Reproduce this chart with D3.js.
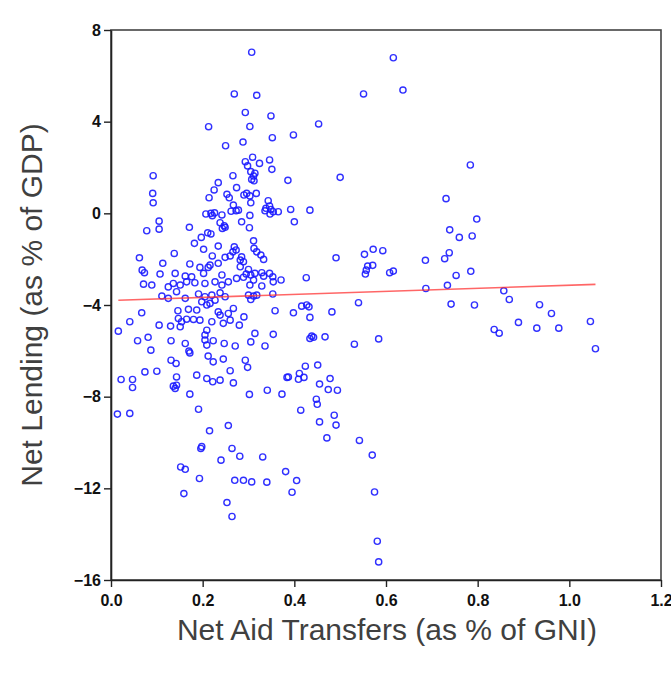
<!DOCTYPE html>
<html>
<head>
<meta charset="utf-8">
<script src="https://cdn.jsdelivr.net/npm/d3@7"></script>
<style>
  html, body { margin: 0; padding: 0; background: #fff; }
  svg { display: block; }
</style>
</head>
<body>
<svg id="chart" width="671" height="680"></svg>
<script>
// ---- Data ----
const netAid = [
  0.307,0.616,0.269,0.318,0.551,0.637,0.293,0.349,0.213,0.303,0.453,0.352,0.398,0.250,0.288,
  0.092,0.091,0.092,0.105,0.105,0.078,0.171,0.234,0.225,0.253,0.258,0.214,0.207,0.218,0.221,0.226,0.242,0.247,0.243,0.249,0.238,0.211,0.218,0.197,0.182,0.202,0.234,0.138,0.062,0.113,0.221,0.172,0.194,0.216,0.212,0.234,0.249,0.260,0.068,0.073,0.107,0.140,0.162,0.176,0.202,0.242,
  0.293,0.298,0.309,0.324,0.346,0.351,0.266,0.305,0.311,0.307,0.312,0.314,0.386,0.500,0.274,0.290,0.296,0.303,0.317,0.305,0.267,0.273,0.262,0.278,0.303,0.343,0.338,0.346,0.349,0.354,0.365,0.347,0.336,0.392,0.434,0.400,0.285,0.302,0.491,0.311,0.312,0.318,0.327,0.333,0.269,0.273,0.266,0.285,0.282,0.289,0.282,0.300,0.295,0.305,0.289,0.314,0.329,0.333,0.346,0.353,0.371,0.354,0.311,0.274,0.426,
  0.071,0.089,0.125,0.136,0.151,0.165,0.183,0.205,0.227,0.242,0.256,0.111,0.125,0.143,0.162,0.191,0.205,0.220,0.238,0.249,0.067,0.041,0.016,0.105,0.130,0.146,0.169,0.187,0.165,0.180,0.194,0.147,0.154,0.198,0.209,0.216,0.227,0.234,0.238,0.220,0.209,0.205,0.151,0.245,0.256,0.058,0.081,0.087,0.131,0.162,0.170,0.172,0.205,0.209,0.223,0.247,0.212,0.223,0.245,0.131,0.142,0.074,0.100,0.022,0.047,0.047,0.143,0.136,0.140,0.143,0.187,0.209,0.222,0.238,0.172,
  0.303,0.329,0.300,0.311,0.318,0.305,0.353,0.267,0.260,0.280,0.290,0.358,0.398,0.416,0.427,0.432,0.434,0.482,0.540,0.314,0.354,0.305,0.336,0.271,0.438,0.434,0.442,0.467,0.531,0.293,0.298,0.260,0.267,0.387,0.384,0.424,0.451,0.411,0.409,0.421,0.478,0.455,0.474,0.494,0.341,0.373,0.302,0.448,0.450,
  0.014,0.041,0.191,0.414,0.487,0.491,0.455,0.471,0.215,0.256,0.196,0.198,0.264,0.240,0.281,0.331,0.152,0.162,0.193,0.270,0.289,0.307,0.340,0.381,0.405,0.395,0.159,0.253,0.264,0.542,0.570,0.575,0.581,0.584,
  0.784,0.731,0.798,0.739,0.760,0.788,0.553,0.572,0.593,0.560,0.555,0.571,0.557,0.608,0.616,0.686,0.728,0.738,0.753,0.785,0.687,0.734,0.857,0.869,0.742,0.793,0.935,0.961,1.046,0.889,0.836,0.847,0.929,0.977,1.057,0.584
];
const netLending = [
  7.03,6.79,5.21,5.15,5.21,5.38,4.40,4.25,3.78,3.79,3.90,3.30,3.42,2.95,3.11,
  1.64,0.87,0.46,-0.34,-0.69,-0.76,-0.61,1.34,1.02,0.83,0.68,0.68,-0.03,0.00,-0.10,0.02,-0.07,-0.54,-0.66,-0.61,-0.41,-0.85,-0.90,-1.05,-1.31,-1.57,-1.43,-1.75,-1.94,-2.18,-1.86,-2.21,-2.36,-2.26,-2.36,-2.18,-1.92,-1.86,-2.48,-2.59,-2.65,-2.62,-2.74,-2.77,-2.62,-2.69,
  2.25,2.07,2.45,2.18,2.33,1.92,1.64,1.82,1.63,1.48,1.42,1.75,1.44,1.57,1.12,0.80,0.87,0.76,0.87,0.46,0.36,0.11,0.09,0.14,-0.09,0.55,0.22,0.32,0.17,0.07,0.07,-0.03,0.11,0.17,0.14,-0.37,-0.37,-0.63,-1.94,-1.20,-1.53,-1.68,-1.82,-2.01,-1.46,-1.60,-1.68,-1.90,-2.04,-2.11,-2.33,-2.45,-2.65,-2.69,-2.79,-2.62,-2.59,-2.74,-2.62,-2.77,-2.91,-2.99,-2.91,-2.84,-2.81,
  -3.09,-3.13,-3.21,-3.06,-3.13,-2.99,-3.03,-3.06,-2.99,-3.13,-2.99,-3.61,-3.71,-3.42,-3.71,-3.52,-3.64,-3.57,-3.47,-3.64,-4.34,-4.73,-5.14,-4.88,-4.92,-4.25,-4.19,-4.22,-4.62,-4.63,-4.66,-4.59,-4.73,-3.86,-4.00,-3.93,-3.79,-4.30,-4.44,-4.73,-5.10,-5.31,-4.95,-4.80,-4.37,-5.56,-5.41,-5.97,-5.56,-5.68,-6.01,-6.09,-5.53,-5.75,-5.56,-5.68,-6.23,-6.48,-6.36,-6.41,-6.55,-6.92,-6.89,-7.25,-7.25,-7.60,-7.14,-7.54,-7.64,-7.50,-7.06,-7.21,-7.35,-7.28,-7.89,
  -3.13,-3.17,-3.57,-3.61,-3.57,-3.76,-3.52,-4.15,-4.66,-4.88,-4.52,-4.25,-4.34,-4.05,-4.00,-4.08,-4.54,-4.30,-3.90,-5.24,-5.28,-5.61,-5.79,-5.79,-5.36,-5.46,-5.41,-5.39,-5.71,-6.41,-6.72,-6.87,-7.40,-7.14,-7.16,-6.67,-6.62,-6.99,-7.24,-7.16,-7.21,-7.45,-7.69,-7.72,-7.72,-7.89,-7.90,-8.11,-8.33,
  -8.76,-8.73,-8.55,-8.59,-8.81,-9.24,-9.10,-9.80,-9.49,-9.26,-10.26,-10.18,-10.26,-10.77,-10.60,-10.63,-11.07,-11.17,-11.57,-11.65,-11.65,-11.72,-11.73,-11.27,-11.66,-12.17,-12.23,-12.62,-13.23,-9.91,-10.55,-12.16,-14.31,-15.21,
  2.11,0.64,-0.25,-0.72,-1.05,-0.99,-1.79,-1.57,-1.63,-2.30,-2.65,-2.27,-2.48,-2.59,-2.52,-2.05,-1.98,-1.72,-2.71,-2.53,-3.28,-3.14,-3.38,-3.76,-3.96,-4.00,-3.99,-4.37,-4.72,-4.76,-5.07,-5.23,-5.01,-5.01,-5.91,-5.48
];
const fitX = [0.016, 1.057];
const fitY = [-3.79, -3.10];
const xTicks = [0, 0.2, 0.4, 0.6, 0.8, 1.0, 1.2];
const yTicks = [-16, -12, -8, -4, 0, 4, 8];
const xTitle = "Net Aid Transfers (as % of GNI)";
const yTitle = "Net Lending (as % of GDP)";

// ---- Layout ----
const svg = d3.select("#chart");
const L = 111, R = 661, T = 30, B = 580;
const x = d3.scaleLinear().domain([0, 1.2]).range([L, R]);
const y = d3.scaleLinear().domain([-16, 8]).range([B, T]);

const font = "'Liberation Sans', Arial, sans-serif";

// frame
svg.append("rect")
  .attr("x", L).attr("y", T).attr("width", R - L).attr("height", B - T)
  .attr("fill", "none").attr("stroke", "#444").attr("stroke-width", 1.6);

// axes
const xAxis = svg.append("g").attr("transform", `translate(0,${B})`)
  .call(d3.axisBottom(x).tickValues(xTicks).tickFormat(d3.format(".1f")).tickSize(7).tickSizeOuter(0).tickPadding(8));
const yAxis = svg.append("g").attr("transform", `translate(${L},0)`)
  .call(d3.axisLeft(y).tickValues(yTicks).tickFormat(d3.format("d")).tickSize(7).tickSizeOuter(0).tickPadding(3));
[xAxis, yAxis].forEach(g => {
  g.select(".domain").attr("stroke", "#222").attr("stroke-width", 1.6);
  g.selectAll(".tick line").attr("stroke", "#222").attr("stroke-width", 1.4);
  g.selectAll(".tick text").attr("fill", "#111")
    .style("font-family", font).style("font-size", "16px").style("font-weight", "bold");
});

// points
const pts = netAid.map((v, i) => ({ x: v, y: netLending[i] }));
svg.append("g").selectAll("circle").data(pts).join("circle")
  .attr("cx", d => x(d.x)).attr("cy", d => y(d.y)).attr("r", 3.1)
  .attr("fill", "none").attr("stroke", "#1a1aff").attr("stroke-width", 1.4)
  .attr("stroke-opacity", 0.9);

// fitted line
svg.append("line")
  .attr("x1", x(fitX[0])).attr("y1", y(fitY[0]))
  .attr("x2", x(fitX[1])).attr("y2", y(fitY[1]))
  .attr("stroke", "#ff3333").attr("stroke-opacity", 0.75).attr("stroke-width", 1.6);

// titles
svg.append("text").attr("x", 387).attr("y", 640).attr("text-anchor", "middle")
  .style("font-family", font).style("font-size", "30px").attr("fill", "#404040")
  .text(xTitle);
svg.append("text").attr("transform", "translate(42,305) rotate(-90)").attr("text-anchor", "middle")
  .style("font-family", font).style("font-size", "30px").attr("fill", "#404040")
  .text(yTitle);
</script>
</body>
</html>
